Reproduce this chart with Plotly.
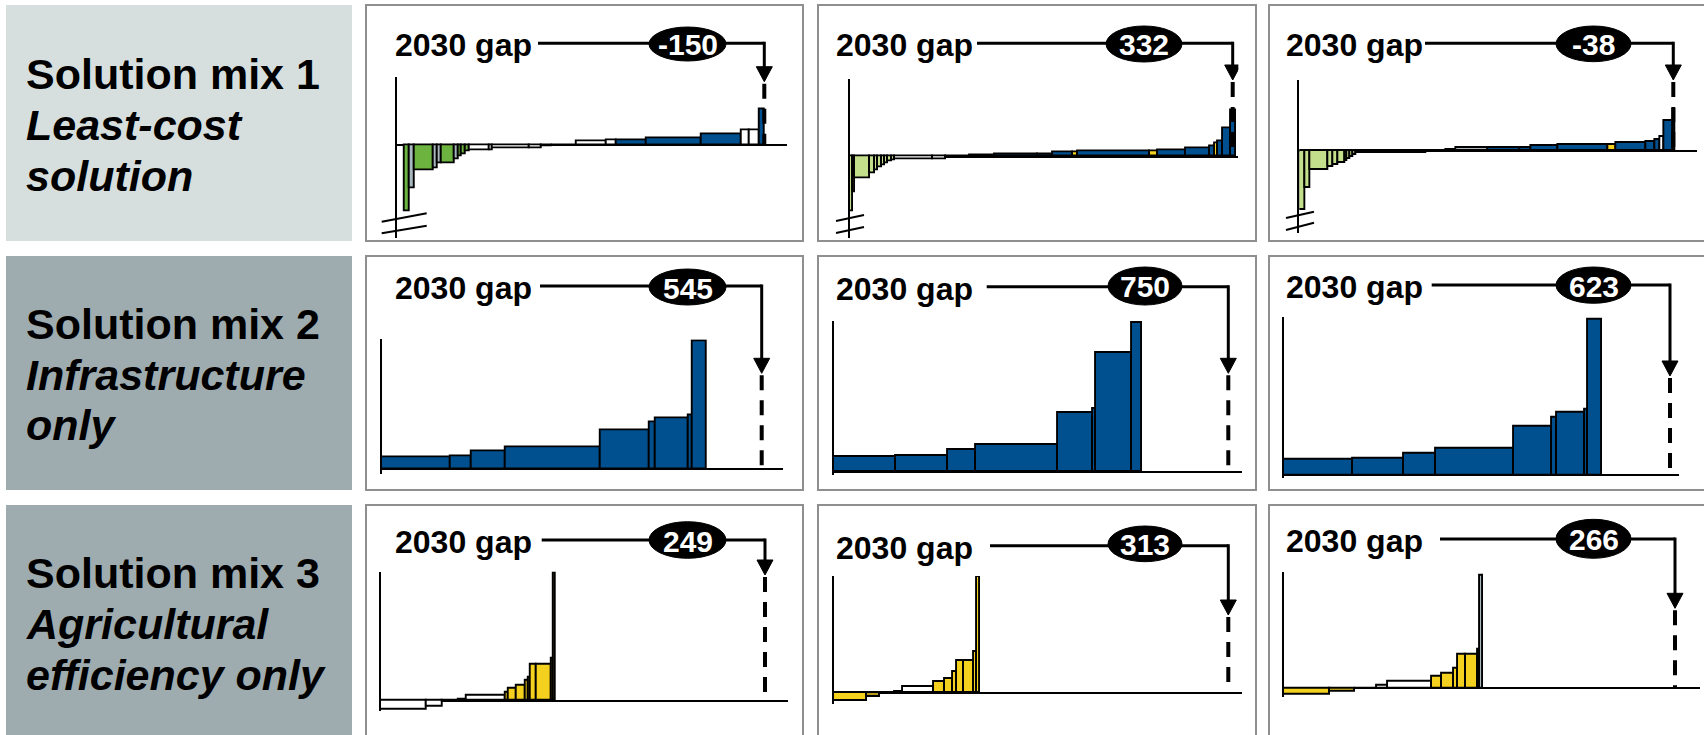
import plotly.graph_objects as go

W, H = 1704, 735

# ---------------- data ----------------
row_titles = ["Solution mix 1", "Solution mix 2", "Solution mix 3"]
row_subtitles = [["Least-cost", "solution"], ["Infrastructure", "only"], ["Agricultural", "efficiency only"]]
gap_labels = ["-150", "332", "-38", "545", "750", "623", "249", "313", "266"]

# lever widths (volume) / heights (unit cost) / lever type
vol_11 = [4.3, 5.0, 19.7, 3.3, 4.3, 13.3, 3.3, 3.3, 4.3, 4.0, 20.0, 3.3, 36.7, 11.7, 10.0, 25.0, 30.0, 10.0, 30.0, 55.0, 40.0, 8.3, 10.0, 5.0]
cost_11 = [-66.7, -43.3, -25, -23.3, -18.3, -18.3, -14.3, -11.7, -9, -6.7, -5, -5, -3.3, -3.3, -1.7, -0.7, 3.3, 4.3, 5, 6.7, 11, 14.3, 14.3, 35.7]
kind_11 = ["g", "gr", "g", "gr", "gr", "g", "gr", "g", "g", "g", "w", "w", "w", "w", "w", "w", "w", "w", "b", "b", "b", "w", "w", "b"]

vol_12 = [3.3, 1.7, 15, 5, 3.3, 3.3, 3.3, 3.3, 3.3, 3.3, 38.3, 13.3, 23.3, 25, 43.3, 15, 20, 5, 71.7, 8.3, 28.3, 23.3, 5, 3.3, 5, 8.3, 5]
cost_12 = [-55, -36, -21.7, -16.7, -13.3, -10.7, -8.3, -6.7, -5, -3.3, -3, -2.3, -1, 1.7, 2.3, 2.3, 4, 4, 5, 5, 6.7, 8.3, 10.7, 13.3, 15, 28.3, 46.7]
kind_12 = ["lg", "lg", "lg", "lg", "lg", "lg", "lg", "lg", "lg", "lg", "w", "w", "w", "gr", "b", "b", "b", "y", "b", "y", "b", "b", "b", "y", "b", "b", "b"]

vol_13 = [5.7, 5, 18.3, 5, 5, 6.7, 2.3, 3.3, 2.7, 3.3, 43.3, 26.7, 20, 10, 31.7, 31.7, 11.7, 26.7, 50, 8.3, 30, 8.3, 5, 4, 9.3, 1.7]
cost_13 = [-59.3, -37, -19.3, -16, -14.3, -12.7, -10, -8, -6, -4.3, -2.7, -2, -1, 0.7, 3, 3, 3, 5, 5.7, 5.7, 7.3, 9, 10.7, 14, 30, 40.7]
kind_13 = ["lg", "lg", "lg", "lg", "lg", "lg", "lg", "lg", "lg", "lg", "w", "w", "w", "w", "gr", "b", "b", "b", "b", "y", "b", "b", "b", "w", "b", "b"]

vol_21 = [69, 21, 34, 95.3, 49, 5.7, 33.3, 3.3, 14.3]
cost_21 = [11.7, 13.3, 17.7, 21.7, 39.3, 47, 51, 53.7, 128.3]
kind_21 = ["b"] * 9

vol_22 = [62, 52.3, 27.3, 82.7, 34.3, 3.3, 35.7, 10.7]
cost_22 = [14.3, 15.7, 21.3, 26.3, 59, 62.3, 118.3, 148.3]
kind_22 = ["b"] * 8

vol_23 = [68.7, 51.3, 32, 78.3, 38, 4.3, 28.3, 3.3, 13.3]
cost_23 = [15.3, 16.7, 22, 27, 48.7, 57.7, 62.7, 65.3, 156]
kind_23 = ["b"] * 9

vol_31 = [46, 15.7, 16, 8.3, 39, 2.7, 8.3, 9, 2.7, 2.3, 6, 15, 1.7, 2.3]
cost_31 = [-8.7, -6, -0.5, 1.3, 5, 8, 11.7, 15, 19.7, 23, 36.3, 36.3, 41.7, 128.5]
kind_31 = ["w", "w", "w", "w", "w", "y", "y", "y", "y", "y", "y", "y", "y", "y"]

vol_32 = [33.3, 12.7, 15, 7.7, 31.3, 11, 8.3, 3.3, 7.7, 10, 2.3, 3.3]
cost_32 = [-7.3, -4, -0.5, 1.7, 6.7, 11.7, 14, 21.7, 32.7, 32.7, 41.7, 116]
kind_32 = ["y", "o", "w", "w", "w", "y", "y", "y", "y", "y", "y", "y"]

vol_33 = [46, 25, 21.7, 11, 44, 10, 12.7, 4, 7.7, 12.3, 1.7, 2.7]
cost_33 = [-6, -3.3, -0.3, 2.3, 6.7, 11.7, 15, 20, 33.3, 33.3, 38.3, 112.3]
kind_33 = ["y", "y", "w", "w", "w", "y", "y", "y", "y", "y", "y", "gr"]

# position of the 2030 demand gap on each volume axis
gap_pos = [359.3, 382.7, 374, 380, 394.3, 386, 384.3, 394.3, 391]

panels_data = [
    (vol_11, cost_11, kind_11), (vol_12, cost_12, kind_12), (vol_13, cost_13, kind_13),
    (vol_21, cost_21, kind_21), (vol_22, cost_22, kind_22), (vol_23, cost_23, kind_23),
    (vol_31, cost_31, kind_31), (vol_32, cost_32, kind_32), (vol_33, cost_33, kind_33),
]

# ---------------- styles / layout geometry (pixels) ----------------
COLORS = {"b": "#00508f", "g": "#6db33f", "lg": "#c4df8b", "gr": "#a9b8bf",
          "w": "#ffffff", "y": "#f4d11e", "o": "#b89a1a"}
FONT = "Liberation Sans, Arial, Helvetica, sans-serif"

geo = [
    dict(frame=(366, 5, 803, 241), ax=396.7, top=77.3, bot=238, base=145, xend=786.7, lead=8.3,
         tr=531.7, ly=43.3, lx0=538, ell=(649, 27, 726, 61), tip=81.7,
         brk=[(381.7, 221.7, 426.7, 213.3), (381.7, 233.3, 426.7, 225.7)]),
    dict(frame=(818, 5, 1256, 241), ax=850, top=79.3, bot=238, base=156.7, xend=1238.3, lead=0,
         tr=973.3, ly=43.3, lx0=977, ell=(1106, 26, 1182, 62), tip=80,
         brk=[(836, 221, 864, 215), (836, 233, 864, 227)]),
    dict(frame=(1269, 5, 1712, 241), ax=1299.3, top=80, bot=233, base=150.7, xend=1696.7, lead=0,
         tr=1423.3, ly=43.3, lx0=1425, ell=(1556, 26, 1631, 61.7), tip=80,
         brk=[(1286, 218, 1314, 211.7), (1286, 230, 1314, 222.7)]),
    dict(frame=(366, 256, 803, 490), ax=381.7, top=339.3, bot=474, base=469.3, xend=783.3, lead=0,
         tr=531.7, ly=286, lx0=540, ell=(649, 269, 726, 305), tip=373.3, brk=[]),
    dict(frame=(818, 256, 1256, 490), ax=834, top=321, bot=475, base=471.7, xend=1241.7, lead=0,
         tr=973.3, ly=286.7, lx0=986.7, ell=(1108, 267, 1182, 305), tip=373.3, brk=[]),
    dict(frame=(1269, 256, 1712, 490), ax=1284, top=316.7, bot=478.3, base=475.3, xend=1679.3, lead=0,
         tr=1423.3, ly=285, lx0=1431.7, ell=(1556, 267, 1631, 303.3), tip=376, brk=[]),
    dict(frame=(366, 505, 803, 745), ax=380.7, top=571.7, bot=710.7, base=700.7, xend=788.3, lead=0,
         tr=531.7, ly=540, lx0=541.7, ell=(649, 521.7, 726, 558.3), tip=575, brk=[]),
    dict(frame=(818, 505, 1256, 745), ax=834, top=576, bot=704, base=693.3, xend=1241.7, lead=0,
         tr=973.3, ly=545.7, lx0=990, ell=(1108, 526, 1182, 561.7), tip=615, brk=[]),
    dict(frame=(1269, 505, 1712, 745), ax=1284, top=571.7, bot=697.3, base=688.3, xend=1700, lead=0,
         tr=1423.3, ly=539, lx0=1440, ell=(1556, 519.3, 1631, 558.3), tip=608.3, brk=[]),
]

label_boxes = [(6, 5, 352, 241, "#d6dfde"), (6, 256, 352, 490, "#9eacb0"), (6, 505, 352, 745, "#9eacb0")]
label_line_y = [(74, 125, 176), (324, 375, 425), (573, 624, 675)]


def fx(x):
    return x / W


def fy(y):
    return 1 - y / H


fig = go.Figure()
shapes = []
annotations = []

# row label boxes
for (x0, y0, x1, y1, col), title, subs, ys in zip(label_boxes, row_titles, row_subtitles, label_line_y):
    shapes.append(dict(type="rect", xref="paper", yref="paper", x0=fx(x0), x1=fx(x1), y0=fy(y1), y1=fy(y0),
                       fillcolor=col, line=dict(width=0), layer="below"))
    texts = ["<b>%s</b>" % title] + ["<b><i>%s</i></b>" % s for s in subs]
    for t, yy in zip(texts, ys):
        annotations.append(dict(xref="paper", yref="paper", x=fx(24), y=fy(yy), text=t, showarrow=False,
                                xanchor="left", yanchor="middle", font=dict(family=FONT, size=43, color="black")))

for i, (g, (vols, costs, kinds)) in enumerate(zip(geo, panels_data)):
    n = i + 1
    xa = "xaxis" if n == 1 else "xaxis%d" % n
    ya = "yaxis" if n == 1 else "yaxis%d" % n
    xr = "x" if n == 1 else "x%d" % n
    yr = "y" if n == 1 else "y%d" % n

    # cost-curve bars
    centers = []
    acc = 0.0
    for w in vols:
        centers.append(acc + w / 2)
        acc += w
    fig.add_trace(go.Bar(x=centers, y=costs, width=vols, xaxis=xr, yaxis=yr,
                         marker=dict(color=[COLORS[k] for k in kinds], line=dict(color="black", width=1.9)),
                         showlegend=False, hoverinfo="skip"))

    xspan = g["xend"] - g["ax"]
    x_range = [-g["lead"], xspan - g["lead"]]
    y_range = [-(g["bot"] - g["base"]), g["base"] - g["top"]]
    fig.update_layout(**{
        xa: dict(domain=[fx(g["ax"]), fx(g["xend"])], range=x_range, anchor=yr, showline=False,
                 showgrid=False, zeroline=False, showticklabels=False, ticks="", fixedrange=True),
        ya: dict(domain=[fy(g["bot"]), fy(g["top"])], range=y_range, anchor=xr, showline=True,
                 linecolor="black", linewidth=1.6, showgrid=False, zeroline=True, zerolinecolor="black",
                 zerolinewidth=2, showticklabels=False, ticks="", fixedrange=True),
    })

    # frame
    fx0, fy0, fx1, fy1 = g["frame"]
    shapes.append(dict(type="rect", xref="paper", yref="paper", x0=fx(fx0), x1=fx(fx1), y0=fy(fy1), y1=fy(fy0),
                       line=dict(color="#8f8f8f", width=2), fillcolor="rgba(0,0,0,0)", layer="below"))

    # "2030 gap" label
    annotations.append(dict(xref="paper", yref="paper", x=fx(g["tr"] + 2), y=fy(g["ly"] + 2), text="<b>2030 gap</b>",
                            showarrow=False, xanchor="right", yanchor="middle",
                            font=dict(family=FONT, size=32, color="black")))

    gx = gap_pos[i]
    lx0_data = (g["lx0"] - g["ax"]) - g["lead"]
    # connector line to gap
    shapes.append(dict(type="line", xref=xr, yref="paper", x0=lx0_data, x1=gx, y0=fy(g["ly"]), y1=fy(g["ly"]),
                       line=dict(color="black", width=3)))
    shapes.append(dict(type="line", xref=xr, yref="paper", x0=gx, x1=gx, y0=fy(g["ly"] - 1.5), y1=fy(g["tip"] - 14),
                       line=dict(color="black", width=3)))
    # arrow head
    shapes.append(dict(type="path", xref=xr, yref="paper",
                       path="M %f,%f L %f,%f L %f,%f Z" % (gx - 8, fy(g["tip"] - 15), gx + 8, fy(g["tip"] - 15),
                                                           gx, fy(g["tip"])),
                       fillcolor="black", line=dict(color="black", width=1)))
    # dashed gap line
    shapes.append(dict(type="line", xref=xr, yref="paper", x0=gx, x1=gx, y0=fy(g["tip"] + 2), y1=fy(g["base"]),
                       line=dict(color="black", width=4, dash="15px,10px")))
    # value ellipse
    e0, e1, e2, e3 = g["ell"]
    shapes.append(dict(type="circle", xref="paper", yref="paper", x0=fx(e0), x1=fx(e2), y0=fy(e3), y1=fy(e1),
                       fillcolor="black", line=dict(color="black", width=1)))
    annotations.append(dict(xref="paper", yref="paper", x=fx((e0 + e2) / 2), y=fy((e1 + e3) / 2 + 1),
                            text="<b>%s</b>" % gap_labels[i], showarrow=False, xanchor="center", yanchor="middle",
                            font=dict(family=FONT, size=30, color="white")))
    # axis break marks
    for (bx0, by0, bx1, by1) in g["brk"]:
        shapes.append(dict(type="line", xref="paper", yref="paper", x0=fx(bx0), x1=fx(bx1), y0=fy(by0), y1=fy(by1),
                           line=dict(color="black", width=2)))

fig.update_layout(width=W, height=H, margin=dict(l=0, r=0, t=0, b=0), autosize=False,
                  paper_bgcolor="white", plot_bgcolor="rgba(0,0,0,0)", shapes=shapes, annotations=annotations,
                  showlegend=False, hovermode=False, bargap=0, barmode="overlay")

fig.write_html("out.html", config={"displayModeBar": False},
               post_script="document.body.style.margin='0';document.body.style.overflow='hidden';")
